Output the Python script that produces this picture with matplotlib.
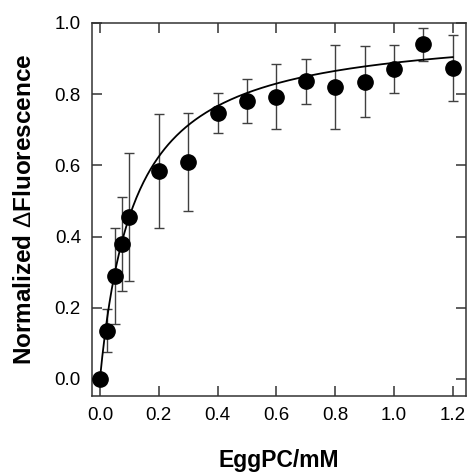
import numpy as np
import matplotlib.pyplot as plt

plt.rcParams['font.family'] = ['Liberation Sans', 'DejaVu Sans']
plt.rcParams['mathtext.fontset'] = 'custom'
plt.rcParams['mathtext.rm'] = 'Liberation Sans'

# EggPC titration, normalized fluorescence change
conc = np.array([0.0, 0.025, 0.05, 0.075, 0.1, 0.2, 0.3, 0.4, 0.5, 0.6, 0.7, 0.8, 0.9, 1.0, 1.1, 1.2])
dF = np.array([0.0, 0.136, 0.289, 0.380, 0.455, 0.585, 0.610, 0.746, 0.781, 0.793, 0.836, 0.821, 0.835, 0.870, 0.940, 0.874])
err = np.array([0.0, 0.061, 0.134, 0.132, 0.180, 0.160, 0.138, 0.056, 0.062, 0.092, 0.063, 0.118, 0.100, 0.067, 0.046, 0.093])

# single-site binding fit
Bmax = 0.993
Kd = 0.118

fig = plt.figure(figsize=(4.68, 4.73), dpi=100)
ax = fig.add_axes([0.1966, 0.1628, 0.7984, 0.7886])

xs = np.linspace(0, 1.2, 300)
ax.plot(xs, Bmax * xs / (Kd + xs), color='black', lw=1.3, zorder=2)
ax.errorbar(conc, dF, yerr=err, fmt='none', ecolor='#404040', elinewidth=1.0,
            capsize=3.3, capthick=1.0, zorder=1)
ax.plot(conc, dF, 'o', color='black', ms=11, zorder=3)

ax.set_xlim(-0.027, 1.244)
ax.set_ylim(-0.048, 1.0)
ax.set_xticks(np.arange(0, 1.21, 0.2))
ax.set_yticks(np.arange(0, 1.01, 0.2))
ax.xaxis.set_major_formatter(plt.FormatStrFormatter('%.1f'))
ax.yaxis.set_major_formatter(plt.FormatStrFormatter('%.1f'))
ax.tick_params(direction='in', length=7, width=1.1, top=True, right=True,
               labelsize=13.5, pad=8, color='#333333')
for s in ax.spines.values():
    s.set_linewidth(1.1)
    s.set_color('#333333')

ax.set_xlabel('EggPC/mM', fontsize=16.5, fontweight='bold')
ax.set_ylabel(r'Normalized $\mathrm{\Delta}$Fluorescence', fontsize=17.5, fontweight='bold')
ax.xaxis.set_label_coords(0.5, -0.142)
ax.yaxis.set_label_coords(-0.15, 0.5)

fig.savefig('out.png', dpi=100)
